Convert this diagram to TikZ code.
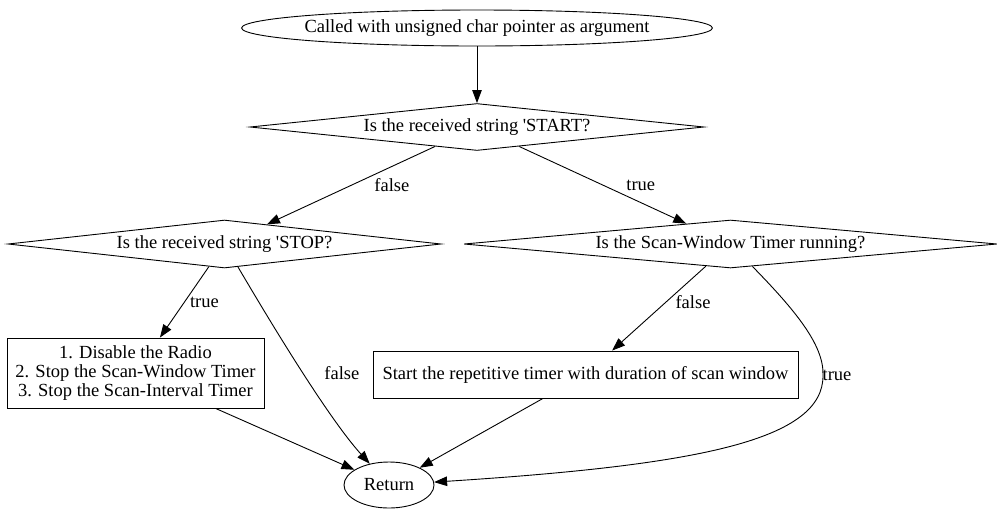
\documentclass[tikz,border=0pt]{standalone}
\usepackage{fontspec}
\setmainfont{Liberation Serif}
\usetikzlibrary{shapes.geometric, arrows.meta, positioning}

\begin{document}
\begin{tikzpicture}[
        x=1pt, y=-1pt,
        font=\fontsize{18.5pt}{19pt}\selectfont,
        startend/.style={ellipse, draw, inner sep=0pt, line width=0.9pt},
        decision/.style={diamond, draw, aspect=10, inner sep=0pt, line width=0.9pt},
        process/.style={rectangle, draw, align=center, inner sep=0pt, line width=0.9pt},
        arrow/.style={-{Triangle[length=13pt, width=9.5pt]}, line width=0.9pt},
        labelstyle/.style={font=\fontsize{18.5pt}{20pt}\selectfont}
    ]
    \useasboundingbox (0,0) rectangle (1003,515);
    \node (start) [startend, inner xsep=-6pt, minimum width=469pt, minimum height=36pt] at (477,28) {Called with unsigned char pointer as argument};
    \node (isstart) [decision, minimum width=454pt, minimum height=47pt] at (477,127) {Is the received string \textquotesingle START?};
    \node (isstop) [decision, minimum width=433pt, minimum height=48pt] at (224.5,244) {Is the received string \textquotesingle STOP?};
    \node (isrunning) [decision, minimum width=533pt, minimum height=48pt] at (730.5,244) {Is the Scan-Window Timer running?};
    \node (disable) [process, minimum width=257pt, minimum height=70pt] at (135.5,373) {1. Disable the Radio \\ 2. Stop the Scan-Window Timer \\ 3. Stop the Scan-Interval Timer};
    \node (starttimer) [process, minimum width=425pt, minimum height=47pt] at (585.5,374.5) {Start the repetitive timer with duration of scan window};
    \node (ret) [startend, minimum width=90pt, minimum height=46pt] at (389,485) {Return};

    \draw [arrow] (start) -- (isstart);
    \draw [arrow] (isstart) -- node[labelstyle, pos=0.5, xshift=41pt] {false} (isstop);
    \draw [arrow] (isstart) -- node[labelstyle, pos=0.5, xshift=38pt] {true} (isrunning);
    \draw [arrow] (isstop) -- node[labelstyle, pos=0.5, xshift=20pt] {true} (disable);
    \draw [arrow] (isstop) .. controls (275,330) and (330,420) .. (ret) node[labelstyle, pos=0.5, xshift=39pt] {false};
    \draw [arrow] (isrunning) -- node[labelstyle, pos=0.425, xshift=27pt] {false} (starttimer);
    \draw [arrow] (isrunning) .. controls (795,310) and (824,345) .. (823,375) node[labelstyle, pos=1, xshift=14pt] {true} .. controls (824,440) and (700,465) .. (ret);
    \draw [arrow] (disable) -- (ret);
    \draw [arrow] (starttimer) -- (ret);
\end{tikzpicture}
\end{document}
